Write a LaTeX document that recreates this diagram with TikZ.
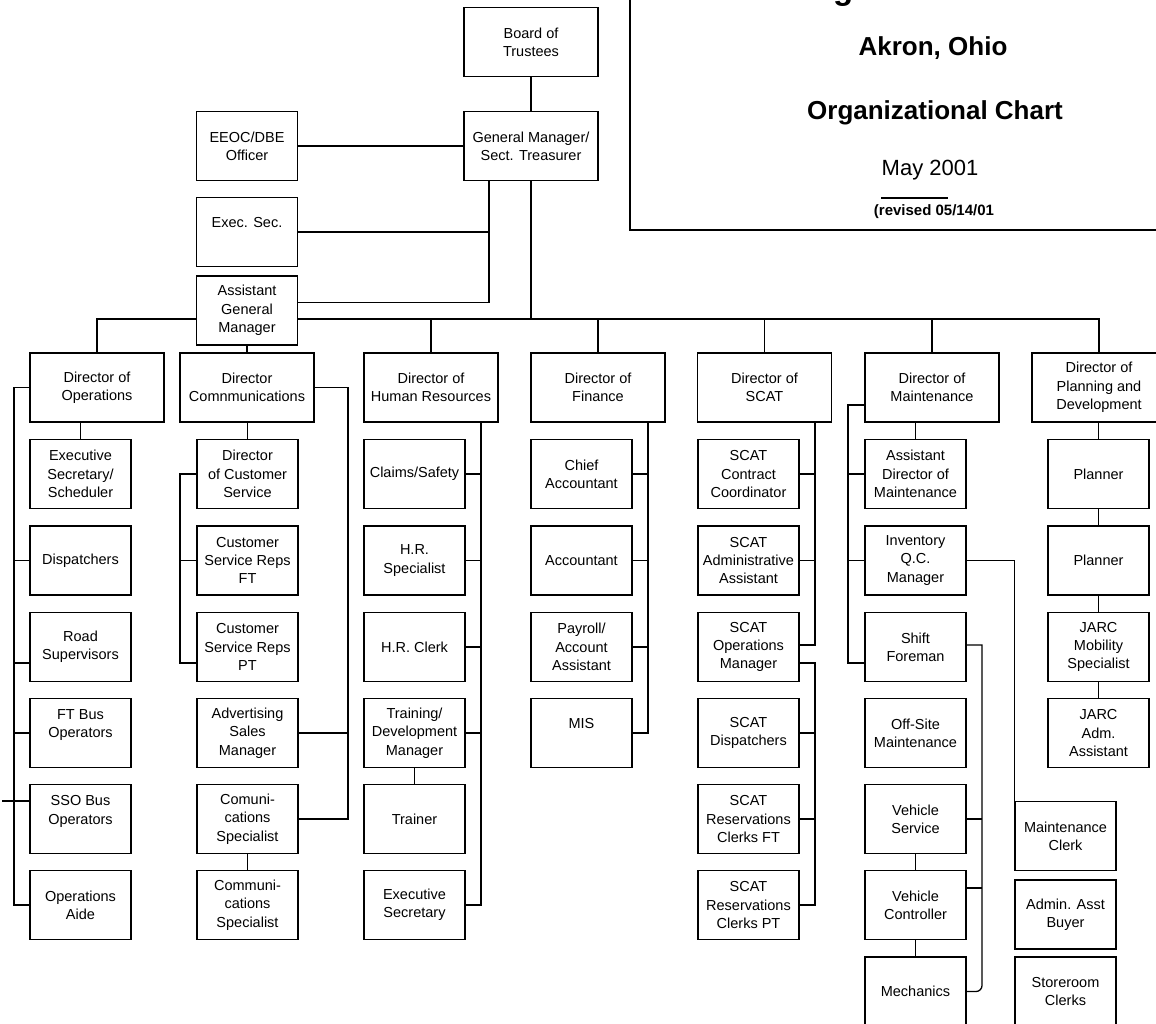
\documentclass[tikz,border=0pt]{standalone}
\usepackage{fontspec}
\setmainfont{Liberation Sans}
\usetikzlibrary{calc}
\pgfdeclarelayer{bg}
\pgfsetlayers{bg,main}
\begin{document}
\begin{tikzpicture}[x=1pt,y=-1pt,
  box/.style={draw, line width=1.4pt, fill=white, minimum width=101pt, minimum height=69pt, inner sep=0pt, align=center, font=\fontsize{14.5}{18.3}\selectfont},
  dbox/.style={box, minimum width=134pt},
  conn/.style={line width=1.3pt},
  ttl/.style={inner sep=0pt, font=\bfseries\fontsize{26}{30}\selectfont}]
\useasboundingbox (0,0) rectangle (1156,1023);
\clip (0,0) rectangle (1156,1023);

% title block
\node[draw, line width=2.5pt, minimum width=560pt, minimum height=250pt, inner sep=0pt] (tb) at (910,105) {};
\node[anchor=base, inner sep=0pt, font=\bfseries\fontsize{33}{36}\selectfont] (hdr) at (933,-0.5) {METRO Regional Transit Authority};
\node[ttl] (akron) at (933,48) {Akron, Ohio};
\node[ttl] (org) at (935,113) {Organizational Chart};
\node[inner sep=0pt, font=\fontsize{22}{26}\selectfont] (may) at (930,170) {May 2001};
\coordinate (ul1) at (881,198);
\coordinate (ul2) at (948,198);
\draw[line width=1.2pt] (ul1) -- (ul2);
\node[inner sep=0pt, font=\bfseries\fontsize{15}{18}\selectfont] (rev) at (934,212) {(revised 05/14/01};

% top management
\node[dbox] (board) at (531,42) {Board of\\Trustees};
\node[dbox] (gm) at (531,146) {General Manager/\\Sect. Treasurer};
\node[box] (eeoc) at (247,146) {EEOC/DBE\\Officer};
\node[box] (esec) at (247,232) {Exec. Sec.\\~};
\node[box] (agm) at (247,310.5) {Assistant\\General\\Manager};

% directors
\node[dbox] (dops) at (97,387.5) {Director of\\Operations};
\node[dbox] (dcom) at (247,387.5) {Director\\Comnmunications};
\node[dbox] (dhr) at (431,387.5) {Director of\\Human Resources};
\node[dbox] (dfin) at (598,387.5) {Director of\\Finance};
\node[dbox] (dscat) at (764.5,387.5) {Director of\\SCAT};
\node[dbox] (dmt) at (932,387.5) {Director of\\Maintenance};
\node[dbox] (dplan) at (1099,387.5) {Director of\\Planning and\\Development};

% operations
\node[box] (op1) at (80.5,474) {Executive\\Secretary/\\Scheduler};
\node[box] (op2) at (80.5,560.5) {Dispatchers};
\node[box] (op3) at (80.5,647) {Road\\Supervisors};
\node[box] (op4) at (80.5,733) {FT Bus\\Operators\\~};
\node[box] (op5) at (80.5,819) {SSO Bus\\Operators\\~};
\node[box] (op6) at (80.5,905) {Operations\\Aide};

% communications
\node[box] (cs1) at (247.5,474) {Director\\of Customer\\Service};
\node[box] (cs2) at (247.5,560.5) {Customer\\Service Reps\\FT};
\node[box] (cs3) at (247.5,647) {Customer\\Service Reps\\PT};
\node[box] (cs4) at (247.5,733) {Advertising\\Sales\\Manager};
\node[box] (cs5) at (247.5,819) {Comuni-\\cations\\Specialist};
\node[box] (cs6) at (247.5,905) {Communi-\\cations\\Specialist};

% human resources
\node[box] (hr1) at (414.5,474) {Claims/Safety};
\node[box] (hr2) at (414.5,560.5) {H.R.\\Specialist};
\node[box] (hr3) at (414.5,647) {H.R. Clerk};
\node[box] (hr4) at (414.5,733) {Training/\\Development\\Manager};
\node[box] (hr5) at (414.5,819) {Trainer};
\node[box] (hr6) at (414.5,905) {Executive\\Secretary};

% finance
\node[box] (fn1) at (581.5,474) {Chief\\Accountant};
\node[box] (fn2) at (581.5,560.5) {Accountant};
\node[box] (fn3) at (581.5,647) {Payroll/\\Account\\Assistant};
\node[box] (fn4) at (581.5,733) {MIS\\~};

% SCAT
\node[box] (sc1) at (748.5,474) {SCAT\\Contract\\Coordinator};
\node[box] (sc2) at (748.5,560.5) {SCAT\\Administrative\\Assistant};
\node[box] (sc3) at (748.5,647) {SCAT\\Operations\\Manager};
\node[box] (sc4) at (748.5,733) {SCAT\\Dispatchers};
\node[box] (sc5) at (748.5,819) {SCAT\\Reservations\\Clerks FT};
\node[box] (sc6) at (748.5,905) {SCAT\\Reservations\\Clerks PT};

% maintenance
\node[box] (mt1) at (915.5,474) {Assistant\\Director of\\Maintenance};
\node[box] (mt2) at (915.5,560.5) {Inventory\\Q.C.\\Manager};
\node[box] (mt3) at (915.5,647) {Shift\\Foreman};
\node[box] (mt4) at (915.5,733) {Off-Site\\Maintenance};
\node[box] (mt5) at (915.5,819) {Vehicle\\Service};
\node[box] (mt6) at (915.5,905) {Vehicle\\Controller};
\node[box] (mt7) at (915.5,991.5) {Mechanics};
\node[box] (mc) at (1065.5,836) {Maintenance\\Clerk};
\node[box] (ab) at (1065.5,914.5) {Admin. Asst\\Buyer};
\node[box] (sr) at (1065.5,991.5) {Storeroom\\Clerks};

% planning
\node[box] (pl1) at (1098.5,474) {Planner};
\node[box] (pl2) at (1098.5,560.5) {Planner};
\node[box] (pl3) at (1098.5,647) {JARC\\Mobility\\Specialist};
\node[box] (pl4) at (1098.5,733) {JARC\\Adm.\\Assistant};

\begin{pgfonlayer}{bg}
\fill[white] (0,0) rectangle (1156,1023);
\coordinate (bus) at (0,319);
\draw[conn] (board.south) -- (gm.north);
\draw[conn] (eeoc.east) -- (gm.west);
\coordinate (gsp) at (489,0);
\draw[conn] (gm.south -| gsp) |- ([yshift=8pt]agm.east);
\draw[conn] (esec.east) -- (esec.east -| gsp);
\draw[conn] (gm.south) -- (gm.south |- bus);
\draw[conn] (dops.north) -- (dops.north |- bus) -- (dplan.north |- bus) -- (dplan.north);
\foreach \d in {dhr,dfin,dscat,dmt} \draw[conn] (\d.north) -- (\d.north |- bus);
\draw[conn] (agm.south) -- (dcom.north);

% operations
\coordinate (osp) at (14,0);
\coordinate (edge) at (2,0);
\draw[conn] (dops.south -| op1.north) -- (op1.north);
\draw[conn] (dops.west) -- (dops.west -| osp) |- (op6.west);
\draw[conn] (op2.west) -- (op2.west -| osp);
\draw[conn] ([yshift=-16pt]op3.west) -- ([yshift=-16pt]op3.west -| osp);
\draw[conn] (op4.west) -- (op4.west -| osp);
\draw[conn] ([yshift=18pt]op5.west) -- ([yshift=18pt]op5.west -| edge);

% communications
\coordinate (csp) at (180,0);
\coordinate (rsp) at (348,0);
\draw[conn] (dcom.south -| cs1.north) -- (cs1.north);
\draw[conn] (cs1.west) -- (cs1.west -| csp) |- ([yshift=-16pt]cs3.west);
\draw[conn] (cs2.west) -- (cs2.west -| csp);
\draw[conn] (dcom.east) -- (dcom.east -| rsp) |- (cs5.east);
\draw[conn] (cs4.east) -- (cs4.east -| rsp);
\draw[conn] (cs5.south) -- (cs6.north);

% human resources
\coordinate (hsp) at (481,0);
\draw[conn] (dhr.south -| hsp) |- (hr6.east);
\foreach \n in {hr1,hr2,hr3,hr4} \draw[conn] (\n.east) -- (\n.east -| hsp);
\draw[conn] (hr4.south) -- (hr5.north);

% finance
\coordinate (fsp) at (648,0);
\draw[conn] (dfin.south -| fsp) |- (fn4.east);
\foreach \n in {fn1,fn2,fn3} \draw[conn] (\n.east) -- (\n.east -| fsp);

% SCAT
\coordinate (ssp) at (815,0);
\draw[conn] (dscat.south -| ssp) |- ([yshift=2pt]sc3.east);
\draw[conn] ([yshift=-16pt]sc3.east) -- ([yshift=-16pt]sc3.east -| ssp) |- (sc6.east);
\foreach \n in {sc1,sc2,sc4,sc5} \draw[conn] (\n.east) -- (\n.east -| ssp);

% maintenance
\coordinate (msp) at (848,0);
\coordinate (m2sp) at (982,0);
\draw[conn] ([yshift=-17.5pt]dmt.west) -- ([yshift=-17.5pt]dmt.west -| msp) |- ([yshift=-16pt]mt3.west);
\draw[conn] (mt1.west) -- (mt1.west -| msp);
\draw[conn] (mt2.west) -- (mt2.west -| msp);
\draw[conn] (dmt.south -| mt1.north) -- (mt1.north);
\draw[conn] (mt2.east) -| (mc.north west);
\draw[conn] ([yshift=2pt]mt3.east) -- ([yshift=2pt]mt3.east -| m2sp) [rounded corners=6pt] |- (mt7.east);
\draw[conn] (mt5.east) -- (mt5.east -| m2sp);
\draw[conn] ([yshift=17pt]mt6.east) -- ([yshift=17pt]mt6.east -| m2sp);
\draw[conn] (mt5.south) -- (mt6.north);
\draw[conn] (mt6.south) -- (mt7.north);

% planning
\draw[conn] (dplan.south -| pl1.north) -- (pl1.north);
\draw[conn] (pl1.south) -- (pl2.north);
\draw[conn] (pl2.south) -- (pl3.north);
\draw[conn] (pl3.south) -- (pl4.north);
\end{pgfonlayer}
\end{tikzpicture}
\end{document}
